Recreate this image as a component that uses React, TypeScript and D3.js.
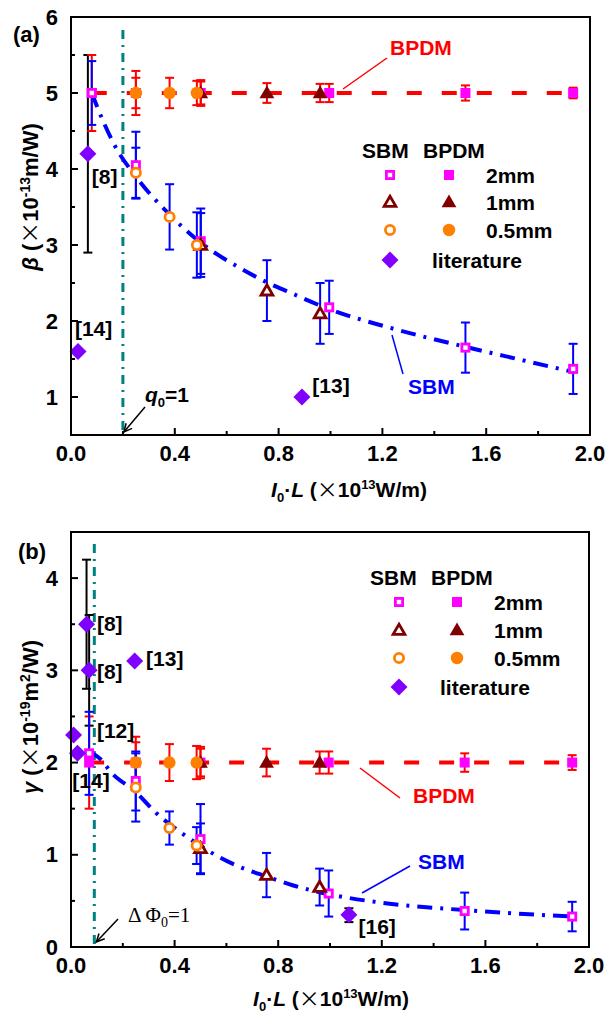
import React from "react";
import * as d3 from "d3";

// ---------- data ----------
type P = { x: number; y: number; e: number };
type L = { x: number; y: number; lo?: number; hi?: number; label: string; lx: number; ly: number };

// panel (a): beta (x1e-13 m/W)
const bpdmA_2mm: P[] = [
  { x: 0.08, y: 5.0, e: 0.5 }, { x: 0.25, y: 5.0, e: 0.2 }, { x: 0.5, y: 5.0, e: 0.15 },
  { x: 0.995, y: 5.0, e: 0.12 }, { x: 1.52, y: 5.0, e: 0.1 }, { x: 1.935, y: 5.0, e: 0.07 },
];
const bpdmA_1mm: P[] = [
  { x: 0.5, y: 5.0, e: 0.17 }, { x: 0.755, y: 5.0, e: 0.13 }, { x: 0.96, y: 5.0, e: 0.12 },
];
const bpdmA_05mm: P[] = [
  { x: 0.25, y: 5.0, e: 0.29 }, { x: 0.38, y: 5.0, e: 0.2 }, { x: 0.485, y: 5.0, e: 0.16 },
];
const sbmA_2mm: P[] = [
  { x: 0.08, y: 5.0, e: 0.42 }, { x: 0.25, y: 4.05, e: 0.44 }, { x: 0.5, y: 3.05, e: 0.43 },
  { x: 0.995, y: 2.18, e: 0.35 }, { x: 1.52, y: 1.65, e: 0.33 }, { x: 1.935, y: 1.37, e: 0.33 },
];
const sbmA_1mm: P[] = [
  { x: 0.5, y: 3.0, e: 0.42 }, { x: 0.755, y: 2.4, e: 0.4 }, { x: 0.96, y: 2.1, e: 0.4 },
];
const sbmA_05mm: P[] = [
  { x: 0.25, y: 3.95, e: 0.33 }, { x: 0.38, y: 3.37, e: 0.43 }, { x: 0.485, y: 3.0, e: 0.43 },
];
const litA: L[] = [
  { x: 0.065, y: 4.2, lo: 2.9, hi: 5.5, label: "[8]", lx: 0.08, ly: 3.9 },
  { x: 0.027, y: 1.6, label: "[14]", lx: 0.015, ly: 1.9 },
  { x: 0.89, y: 1.0, label: "[13]", lx: 0.93, ly: 1.15 },
];
const fitA_sbm: [number, number][] = [
  [0.08, 5.0], [0.125, 4.62], [0.17, 4.3], [0.25, 3.9], [0.38, 3.4], [0.5, 3.03],
  [0.65, 2.7], [0.76, 2.5], [0.84, 2.38], [1.0, 2.15], [1.23, 1.91], [1.52, 1.66],
  [1.72, 1.5], [1.935, 1.33],
];
const fitA_bpdm: [number, number][] = [[0.08, 5.0], [1.95, 5.0]];

// panel (b): gamma (x1e-19 m^2/W)
const bpdmB_2mm: P[] = [
  { x: 0.07, y: 2.0, e: 0.5 }, { x: 0.25, y: 2.0, e: 0.22 }, { x: 0.5, y: 2.0, e: 0.15 },
  { x: 0.995, y: 2.0, e: 0.12 }, { x: 1.52, y: 2.0, e: 0.1 }, { x: 1.935, y: 2.0, e: 0.08 },
];
const bpdmB_1mm: P[] = [
  { x: 0.5, y: 2.0, e: 0.17 }, { x: 0.755, y: 2.0, e: 0.15 }, { x: 0.96, y: 2.0, e: 0.12 },
];
const bpdmB_05mm: P[] = [
  { x: 0.25, y: 2.0, e: 0.28 }, { x: 0.38, y: 2.0, e: 0.2 }, { x: 0.485, y: 2.0, e: 0.18 },
];
const sbmB_2mm: P[] = [
  { x: 0.07, y: 2.1, e: 0.45 }, { x: 0.25, y: 1.8, e: 0.32 }, { x: 0.5, y: 1.17, e: 0.38 },
  { x: 0.995, y: 0.58, e: 0.25 }, { x: 1.52, y: 0.39, e: 0.2 }, { x: 1.935, y: 0.33, e: 0.16 },
];
const sbmB_1mm: P[] = [
  { x: 0.5, y: 1.07, e: 0.27 }, { x: 0.755, y: 0.78, e: 0.24 }, { x: 0.96, y: 0.65, e: 0.2 },
];
const sbmB_05mm: P[] = [
  { x: 0.25, y: 1.73, e: 0.37 }, { x: 0.38, y: 1.29, e: 0.18 }, { x: 0.485, y: 1.1, e: 0.2 },
];
const litB: L[] = [
  { x: 0.06, y: 3.5, lo: 2.8, hi: 4.2, label: "[8]", lx: 0.1, ly: 3.5 },
  { x: 0.07, y: 3.0, lo: 2.4, hi: 3.6, label: "[8]", lx: 0.1, ly: 2.98 },
  { x: 0.246, y: 3.1, label: "[13]", lx: 0.29, ly: 3.12 },
  { x: 0.01, y: 2.3, label: "[12]", lx: 0.1, ly: 2.34 },
  { x: 0.025, y: 2.1, label: "[14]", lx: 0.005, ly: 1.8 },
  { x: 1.073, y: 0.35, lo: 0.27, hi: 0.42, label: "[16]", lx: 1.11, ly: 0.22 },
];
const fitB_sbm: [number, number][] = [
  [0.07, 2.12], [0.12, 2.02], [0.15, 1.91], [0.25, 1.68], [0.33, 1.45], [0.42, 1.25],
  [0.52, 1.06], [0.65, 0.87], [0.76, 0.76], [0.855, 0.67], [1.0, 0.57], [1.23, 0.47],
  [1.52, 0.4], [1.935, 0.33],
];
const fitB_bpdm: [number, number][] = [[0.07, 2.0], [1.95, 2.0]];

const xMajor = [0, 0.4, 0.8, 1.2, 1.6, 2.0];
const xMinor = [0.2, 0.6, 1.0, 1.4, 1.8];
const yMajorA = [1, 2, 3, 4, 5, 6];
const yMinorA = [1.5, 2.5, 3.5, 4.5, 5.5];
const yMajorB = [0, 1, 2, 3, 4];
const yMinorB = [0.5, 1.5, 2.5, 3.5];
const legendRows = ["2mm", "1mm", "0.5mm", "literature"];

// ---------- style ----------
const MAG = "#FF00FF";
const DRED = "#800000";
const ORG = "#FF8000";
const PUR = "#7F00FF";
const BLUE = "#0000FF";
const RED = "#FF0000";
const TEAL = "#008080";
const FONT = "'Liberation Sans', Arial, Helvetica, sans-serif";
const CJK = "'Noto Sans CJK SC', 'Liberation Sans', sans-serif";

type Shape = "sq" | "tri" | "cir" | "dia";

function Marker({ x, y, shape, color, open }: { x: number; y: number; shape: Shape; color: string; open?: boolean }) {
  if (shape === "sq") {
    return open ? (
      <rect x={x - 3.6} y={y - 3.6} width={7.2} height={7.2} fill="white" stroke={color} strokeWidth={2.8} />
    ) : (
      <rect x={x - 5} y={y - 5} width={10} height={10} fill={color} />
    );
  }
  if (shape === "tri") {
    const p = d3.symbol().type(d3.symbolTriangle).size(open ? 60 : 95)()!;
    return (
      <path d={p} transform={`translate(${x},${y + 1})`} fill={open ? "white" : color} stroke={open ? color : "none"} strokeWidth={2.8} strokeLinejoin="miter" />
    );
  }
  if (shape === "cir") {
    return open ? (
      <circle cx={x} cy={y} r={4.6} fill="white" stroke={color} strokeWidth={2.8} />
    ) : (
      <circle cx={x} cy={y} r={6.2} fill={color} />
    );
  }
  const s = 8.5;
  return <path d={`M${x},${y - s}L${x + s},${y}L${x},${y + s}L${x - s},${y}Z`} fill={color} />;
}

function ErrBar({ x, y1, y2, color, w = 4.5 }: { x: number; y1: number; y2: number; color: string; w?: number }) {
  return (
    <g stroke={color} strokeWidth={2}>
      <line x1={x} x2={x} y1={y1} y2={y2} />
      <line x1={x - w} x2={x + w} y1={y1} y2={y1} />
      <line x1={x - w} x2={x + w} y1={y2} y2={y2} />
    </g>
  );
}

type PanelProps = {
  top: number; bottom: number; left: number; right: number;
  yDomain: [number, number]; yMajor: number[]; yMinor: number[];
  bpdm: [P[], P[], P[]]; sbm: [P[], P[], P[]]; lit: L[];
  fitSbm: [number, number][]; fitBpdm: [number, number][];
  vline: { x: number; y0: number };
  letter: string;
  yTitle: React.ReactNode; yTitleY: number;
  xTitleY: number; xTitleX: number;
  legend: { hx: number; hy: number; c1: number; c2: number; tx: number; litx: number; rows: number[] };
  children?: (x: d3.ScaleLinear<number, number>, y: d3.ScaleLinear<number, number>) => React.ReactNode;
  letterPos: [number, number];
};

function Panel(p: PanelProps) {
  const x = d3.scaleLinear().domain([0, 2]).range([p.left, p.right]);
  const y = d3.scaleLinear().domain(p.yDomain).range([p.bottom, p.top]);
  const line = d3.line<[number, number]>().x((d) => x(d[0])).y((d) => y(d[1])).curve(d3.curveMonotoneX);
  const shapes: Shape[] = ["sq", "tri", "cir"];
  const colors = [MAG, DRED, ORG];
  return (
    <g>
      {/* vertical reference line */}
      <line x1={x(p.vline.x)} x2={x(p.vline.x)} y1={y(p.vline.y0)} y2={p.bottom} stroke={TEAL} strokeWidth={3} strokeDasharray="9,6,2,6" />
      {/* fits */}
      <path d={line(p.fitBpdm)!} fill="none" stroke={RED} strokeWidth={4} strokeDasharray="15,20" />
      <path d={line(p.fitSbm)!} fill="none" stroke={BLUE} strokeWidth={4} strokeDasharray="15,8,3,8" />
      {/* error bars */}
      {p.lit.filter((d) => d.lo !== undefined).map((d, i) => (
        <ErrBar key={"le" + i} x={x(d.x)} y1={y(d.hi!)} y2={y(d.lo!)} color="black" />
      ))}
      {p.bpdm.map((arr, k) => arr.map((d, i) => (
        <ErrBar key={`be${k}-${i}`} x={x(d.x)} y1={y(d.y + d.e)} y2={y(d.y - d.e)} color={RED} />
      )))}
      {p.sbm.map((arr, k) => arr.map((d, i) => (
        <ErrBar key={`se${k}-${i}`} x={x(d.x)} y1={y(d.y + d.e)} y2={y(d.y - d.e)} color={BLUE} />
      )))}
      {/* markers */}
      {[0, 1, 2].map((k) => p.bpdm[k].map((d, i) => (
        <Marker key={`bm${k}-${i}`} x={x(d.x)} y={y(d.y)} shape={shapes[k]} color={colors[k]} />
      )))}
      {[0, 1, 2].map((k) => p.sbm[k].map((d, i) => (
        <Marker key={`sm${k}-${i}`} x={x(d.x)} y={y(d.y)} shape={shapes[k]} color={colors[k]} open />
      )))}
      {p.lit.map((d, i) => (
        <g key={"lm" + i}>
          <Marker x={x(d.x)} y={y(d.y)} shape="dia" color={PUR} />
          <text x={x(d.lx)} y={y(d.ly) + 7} fontFamily={FONT} fontWeight="bold" fontSize={21} fill="black">{d.label}</text>
        </g>
      ))}
      {/* frame */}
      <rect x={p.left} y={p.top} width={p.right - p.left} height={p.bottom - p.top} fill="none" stroke="black" strokeWidth={2} />
      {/* ticks */}
      {xMajor.map((t) => (
        <g key={"xM" + t}>
          <line x1={x(t)} x2={x(t)} y1={p.bottom} y2={p.bottom - 7} stroke="black" strokeWidth={2} />
          <text x={x(t)} y={p.bottom + 26} textAnchor="middle" fontFamily={FONT} fontWeight="bold" fontSize={22}>{t.toFixed(1)}</text>
        </g>
      ))}
      {xMinor.map((t) => (
        <line key={"xm" + t} x1={x(t)} x2={x(t)} y1={p.bottom} y2={p.bottom - 4} stroke="black" strokeWidth={2} />
      ))}
      {p.yMajor.map((t) => (
        <g key={"yM" + t}>
          <line x1={p.left} x2={p.left + 7} y1={y(t)} y2={y(t)} stroke="black" strokeWidth={2} />
          <text x={p.left - 13} y={y(t) + 7.5} textAnchor="end" fontFamily={FONT} fontWeight="bold" fontSize={22}>{t}</text>
        </g>
      ))}
      {p.yMinor.map((t) => (
        <line key={"ym" + t} x1={p.left} x2={p.left + 4} y1={y(t)} y2={y(t)} stroke="black" strokeWidth={2} />
      ))}
      {/* letter */}
      <text x={p.letterPos[0]} y={p.letterPos[1]} fontFamily={FONT} fontWeight="bold" fontSize={22}>{p.letter}</text>
      {/* y title */}
      <text transform={`translate(38,${p.yTitleY}) rotate(-90)`} textAnchor="middle" fontFamily={FONT} fontWeight="bold" fontSize={22}>{p.yTitle}</text>
      {/* x title */}
      <text x={p.xTitleX} y={p.xTitleY} textAnchor="middle" fontFamily={FONT} fontWeight="bold" fontSize={21}>
        <tspan fontStyle="italic">I</tspan>
        <tspan fontSize={13} dy={5}>0</tspan>
        <tspan dy={-5}>·</tspan>
        <tspan fontStyle="italic">L</tspan>
        <tspan> (</tspan>
        <tspan fontFamily={CJK} fontWeight="normal">×</tspan>
        <tspan>10</tspan>
        <tspan fontSize={13} dy={-8}>13</tspan>
        <tspan dy={8}>W/m)</tspan>
      </text>
      {/* legend */}
      <g fontFamily={FONT} fontWeight="bold" fontSize={21}>
        <text x={p.legend.hx} y={p.legend.hy + 7.5}>SBM</text>
        <text x={p.legend.hx + 61} y={p.legend.hy + 7.5}>BPDM</text>
        {[0, 1, 2].map((k) => (
          <g key={"lg" + k}>
            <Marker x={p.legend.c1} y={p.legend.rows[k]} shape={shapes[k]} color={colors[k]} open />
            <Marker x={p.legend.c2} y={p.legend.rows[k]} shape={shapes[k]} color={colors[k]} />
            <text x={p.legend.tx} y={p.legend.rows[k] + 7.5}>{legendRows[k]}</text>
          </g>
        ))}
        <Marker x={p.legend.c1} y={p.legend.rows[3]} shape="dia" color={PUR} />
        <text x={p.legend.litx} y={p.legend.rows[3] + 7.5}>{legendRows[3]}</text>
      </g>
      {p.children && p.children(x, y)}
    </g>
  );
}

function Arrow({ x1, y1, x2, y2 }: { x1: number; y1: number; x2: number; y2: number }) {
  const a = Math.atan2(y2 - y1, x2 - x1);
  const h = 9;
  const l1 = [x2 - h * Math.cos(a - 0.45), y2 - h * Math.sin(a - 0.45)];
  const l2 = [x2 - h * Math.cos(a + 0.45), y2 - h * Math.sin(a + 0.45)];
  return (
    <g stroke="black" strokeWidth={1.5} fill="none">
      <line x1={x1} y1={y1} x2={x2} y2={y2} />
      <polyline points={`${l1[0]},${l1[1]} ${x2},${y2} ${l2[0]},${l2[1]}`} />
    </g>
  );
}

export default function App() {
  return (
    <svg width={609} height={1015} style={{ position: "absolute", left: 0, top: 0, background: "white" }}>
      <rect width={609} height={1015} fill="white" />
      <Panel
        top={17} bottom={435} left={71} right={590}
        yDomain={[0.5, 6]} yMajor={yMajorA} yMinor={yMinorA}
        bpdm={[bpdmA_2mm, bpdmA_1mm, bpdmA_05mm]} sbm={[sbmA_2mm, sbmA_1mm, sbmA_05mm]} lit={litA}
        fitSbm={fitA_sbm} fitBpdm={fitA_bpdm}
        vline={{ x: 0.2, y0: 5.83 }}
        letter="(a)" letterPos={[13, 42]}
        yTitle={<>
          <tspan fontStyle="italic">β</tspan>
          <tspan> (</tspan>
          <tspan fontFamily={CJK} fontWeight="normal">×</tspan>
          <tspan>10</tspan>
          <tspan fontSize={14} dy={-8}>-13</tspan>
          <tspan dy={8}>m/W)</tspan>
        </>}
        yTitleY={197}
        xTitleX={349} xTitleY={497}
        legend={{ hx: 362, hy: 150, c1: 390, c2: 449, tx: 486, litx: 432, rows: [175, 202, 230, 260] }}
      >
        {(x, y) => (
          <g fontFamily={FONT} fontWeight="bold" fontSize={21}>
            <text x={390} y={55} fill={RED}>BPDM</text>
            <line x1={387} y1={58} x2={343} y2={89} stroke={RED} strokeWidth={1.5} />
            <text x={408} y={394} fill={BLUE}>SBM</text>
            <line x1={392} y1={335} x2={403} y2={374} stroke={BLUE} strokeWidth={1.5} />
            <text x={145} y={402}>
              <tspan fontStyle="italic">q</tspan>
              <tspan fontSize={13} dy={5}>0</tspan>
              <tspan dy={-5}>=1</tspan>
            </text>
            <Arrow x1={145} y1={407} x2={x(0.2) + 1} y2={y(0.5) - 3} />
          </g>
        )}
      </Panel>
      <Panel
        top={532} bottom={947} left={71} right={589}
        yDomain={[0, 4.5]} yMajor={yMajorB} yMinor={yMinorB}
        bpdm={[bpdmB_2mm, bpdmB_1mm, bpdmB_05mm]} sbm={[sbmB_2mm, sbmB_1mm, sbmB_05mm]} lit={litB}
        fitSbm={fitB_sbm} fitBpdm={fitB_bpdm}
        vline={{ x: 0.09, y0: 4.37 }}
        letter="(b)" letterPos={[18, 559]}
        yTitle={<>
          <tspan fontStyle="italic">γ</tspan>
          <tspan> (</tspan>
          <tspan fontFamily={CJK} fontWeight="normal">×</tspan>
          <tspan>10</tspan>
          <tspan fontSize={14} dy={-8}>-19</tspan>
          <tspan dy={8}>m</tspan>
          <tspan fontSize={14} dy={-8}>2</tspan>
          <tspan dy={8}>/W)</tspan>
        </>}
        yTitleY={717}
        xTitleX={331} xTitleY={1006}
        legend={{ hx: 370, hy: 577, c1: 399, c2: 457, tx: 494, litx: 440, rows: [602, 630, 658, 687] }}
      >
        {(x, y) => (
          <g fontFamily={FONT} fontWeight="bold" fontSize={21}>
            <text x={413} y={803} fill={RED}>BPDM</text>
            <line x1={360} y1={768} x2={400} y2={798} stroke={RED} strokeWidth={1.5} />
            <text x={418} y={869} fill={BLUE}>SBM</text>
            <line x1={410} y1={866} x2={362} y2={893} stroke={BLUE} strokeWidth={1.5} />
            <text x={128} y={922} fontFamily="'Liberation Serif', 'Times New Roman', serif" fontWeight="normal">
              <tspan>Δ Φ</tspan>
              <tspan fontSize={14} dy={5}>0</tspan>
              <tspan dy={-5}>=1</tspan>
            </text>
            <Arrow x1={118} y1={919} x2={x(0.09) + 2} y2={y(0) - 5} />
          </g>
        )}
      </Panel>
    </svg>
  );
}
